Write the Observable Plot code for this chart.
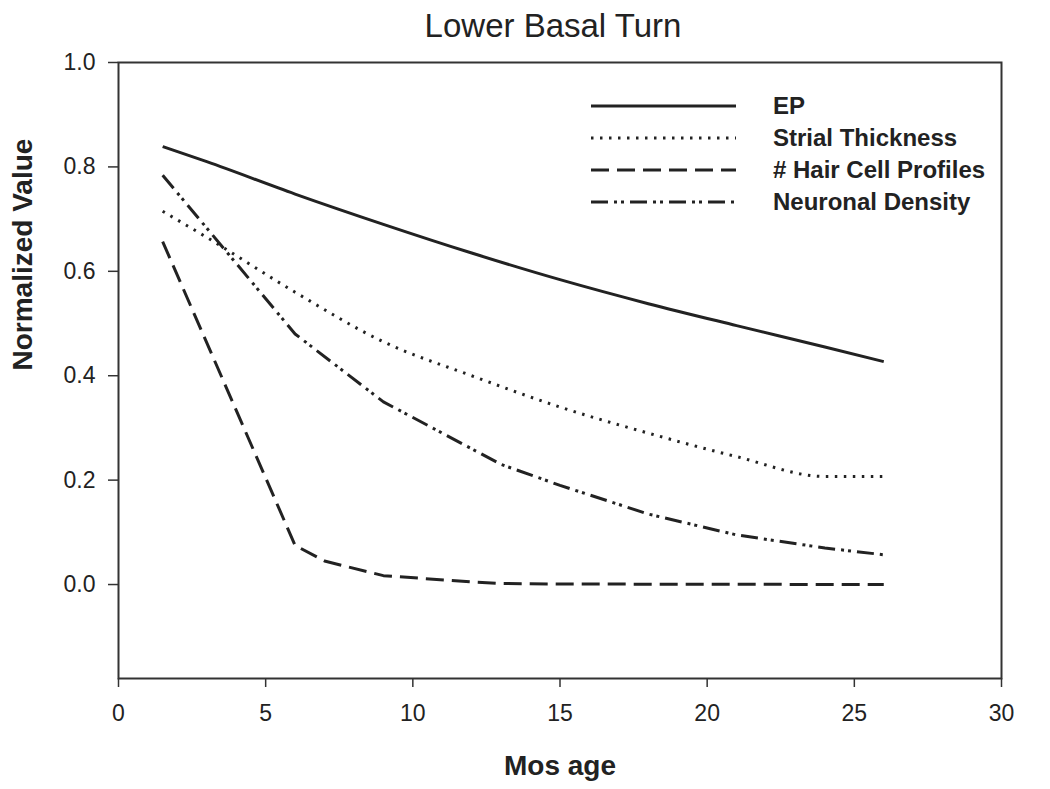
<!DOCTYPE html>
<html>
<head>
<meta charset="utf-8">
<script src="https://cdn.jsdelivr.net/npm/d3@7"></script>
<script src="https://cdn.jsdelivr.net/npm/@observablehq/plot@0.6"></script>
<style>
  html, body { margin: 0; padding: 0; background: #fff; }
  #wrap { position: relative; width: 1050px; height: 789px; font-family: "Liberation Sans", Arial, sans-serif; }
  #legend { position: absolute; left: 591px; top: 90px; }
  .lg-row { display: flex; align-items: center; height: 32px; }
  .lg-row span { margin-left: 37px; font-size: 24px; font-weight: bold; color: #222; }
</style>
</head>
<body>
<div id="wrap"></div>
<script>
// ---- data ----
const titleText = "Lower Basal Turn";
const xLabel = "Mos age";
const yLabel = "Normalized Value";
const xTicks = [0, 5, 10, 15, 20, 25, 30];
const yTicks = [0, 0.2, 0.4, 0.6, 0.8, 1.0];

const seriesNames = ["EP", "Strial Thickness", "# Hair Cell Profiles", "Neuronal Density"];

const epX = [1.5, 3, 6, 9, 12, 15, 18, 21, 24, 26];
const epY = [0.839, 0.81, 0.748, 0.69, 0.635, 0.584, 0.538, 0.496, 0.455, 0.427];

const strialX = [1.5, 3, 6, 9, 12, 15, 18, 21, 24, 26];
const strialY = [0.715, 0.665, 0.56, 0.465, 0.40, 0.34, 0.29, 0.245, 0.207, 0.207];

const hairX = [1.5, 6, 7, 9, 12, 13, 15, 26];
const hairY = [0.657, 0.075, 0.045, 0.017, 0.005, 0.002, 0.001, 0.0];

const neuroX = [1.5, 6, 9, 12, 13, 15, 18, 21, 24, 26];
const neuroY = [0.784, 0.48, 0.35, 0.26, 0.23, 0.19, 0.135, 0.095, 0.07, 0.057];

// ---- styles ----
const dashes = ["none", "2.5,6.5", "18,8", "17,6,3,4,3,6"];
const ink = "#222";

const allX = [epX, strialX, hairX, neuroX];
const allY = [epY, strialY, hairY, neuroY];
const rows = [];
seriesNames.forEach((name, i) => {
  allX[i].forEach((x, j) => rows.push({series: name, x, y: allY[i][j]}));
});

const lineMarks = seriesNames.map((name, i) =>
  Plot.line(rows.filter(d => d.series === name), {
    x: "x", y: "y",
    stroke: ink, strokeWidth: 3,
    strokeDasharray: dashes[i],
    strokeLinecap: "butt",
    curve: (i === 0 || i === 1) ? "monotone-x" : "linear"
  })
);

const chart = Plot.plot({
  width: 1050,
  height: 789,
  marginLeft: 118,
  marginRight: 49,
  marginTop: 62,
  marginBottom: 111,
  style: { fontFamily: "'Liberation Sans', Arial, sans-serif", color: ink, background: "#fff" },
  x: { domain: [0, 30] },
  y: { domain: [-0.18, 1.0] },
  marks: [
    Plot.frame({ stroke: "#333", strokeWidth: 2 }),
    Plot.axisX({ ticks: xTicks, tickSize: 9, tickPadding: 17, fontSize: 23, label: null, stroke: "#333", strokeWidth: 1.5, tickFormat: d3.format("d") }),
    Plot.axisY({ ticks: yTicks, tickSize: 10, tickPadding: 13, fontSize: 23, label: null, stroke: "#333", strokeWidth: 1.5, tickFormat: d3.format(".1f") }),
    ...lineMarks,
    Plot.text([titleText], { frameAnchor: "top", lineAnchor: "middle", dy: -36, dx: -7, fontSize: 33, fill: ink }),
    Plot.text([xLabel], { frameAnchor: "bottom", lineAnchor: "middle", dy: 88, fontSize: 28, fontWeight: "bold", fill: ink }),
    Plot.text([yLabel], { frameAnchor: "left", dx: -95, rotate: -90, fontSize: 28, fontWeight: "bold", fill: ink })
  ]
});

const wrap = document.getElementById("wrap");
wrap.appendChild(chart);

// legend (built from the series names and styles)
const legend = document.createElement("div");
legend.id = "legend";
seriesNames.forEach((name, i) => {
  const row = document.createElement("div");
  row.className = "lg-row";
  const svg = d3.create("svg").attr("width", 145).attr("height", 10);
  svg.append("line").attr("x1", 0).attr("x2", 145).attr("y1", 5).attr("y2", 5)
    .attr("stroke", ink).attr("stroke-width", 3)
    .attr("stroke-dasharray", dashes[i]);
  row.appendChild(svg.node());
  const label = document.createElement("span");
  label.textContent = name;
  row.appendChild(label);
  legend.appendChild(row);
});
wrap.appendChild(legend);
</script>
</body>
</html>
